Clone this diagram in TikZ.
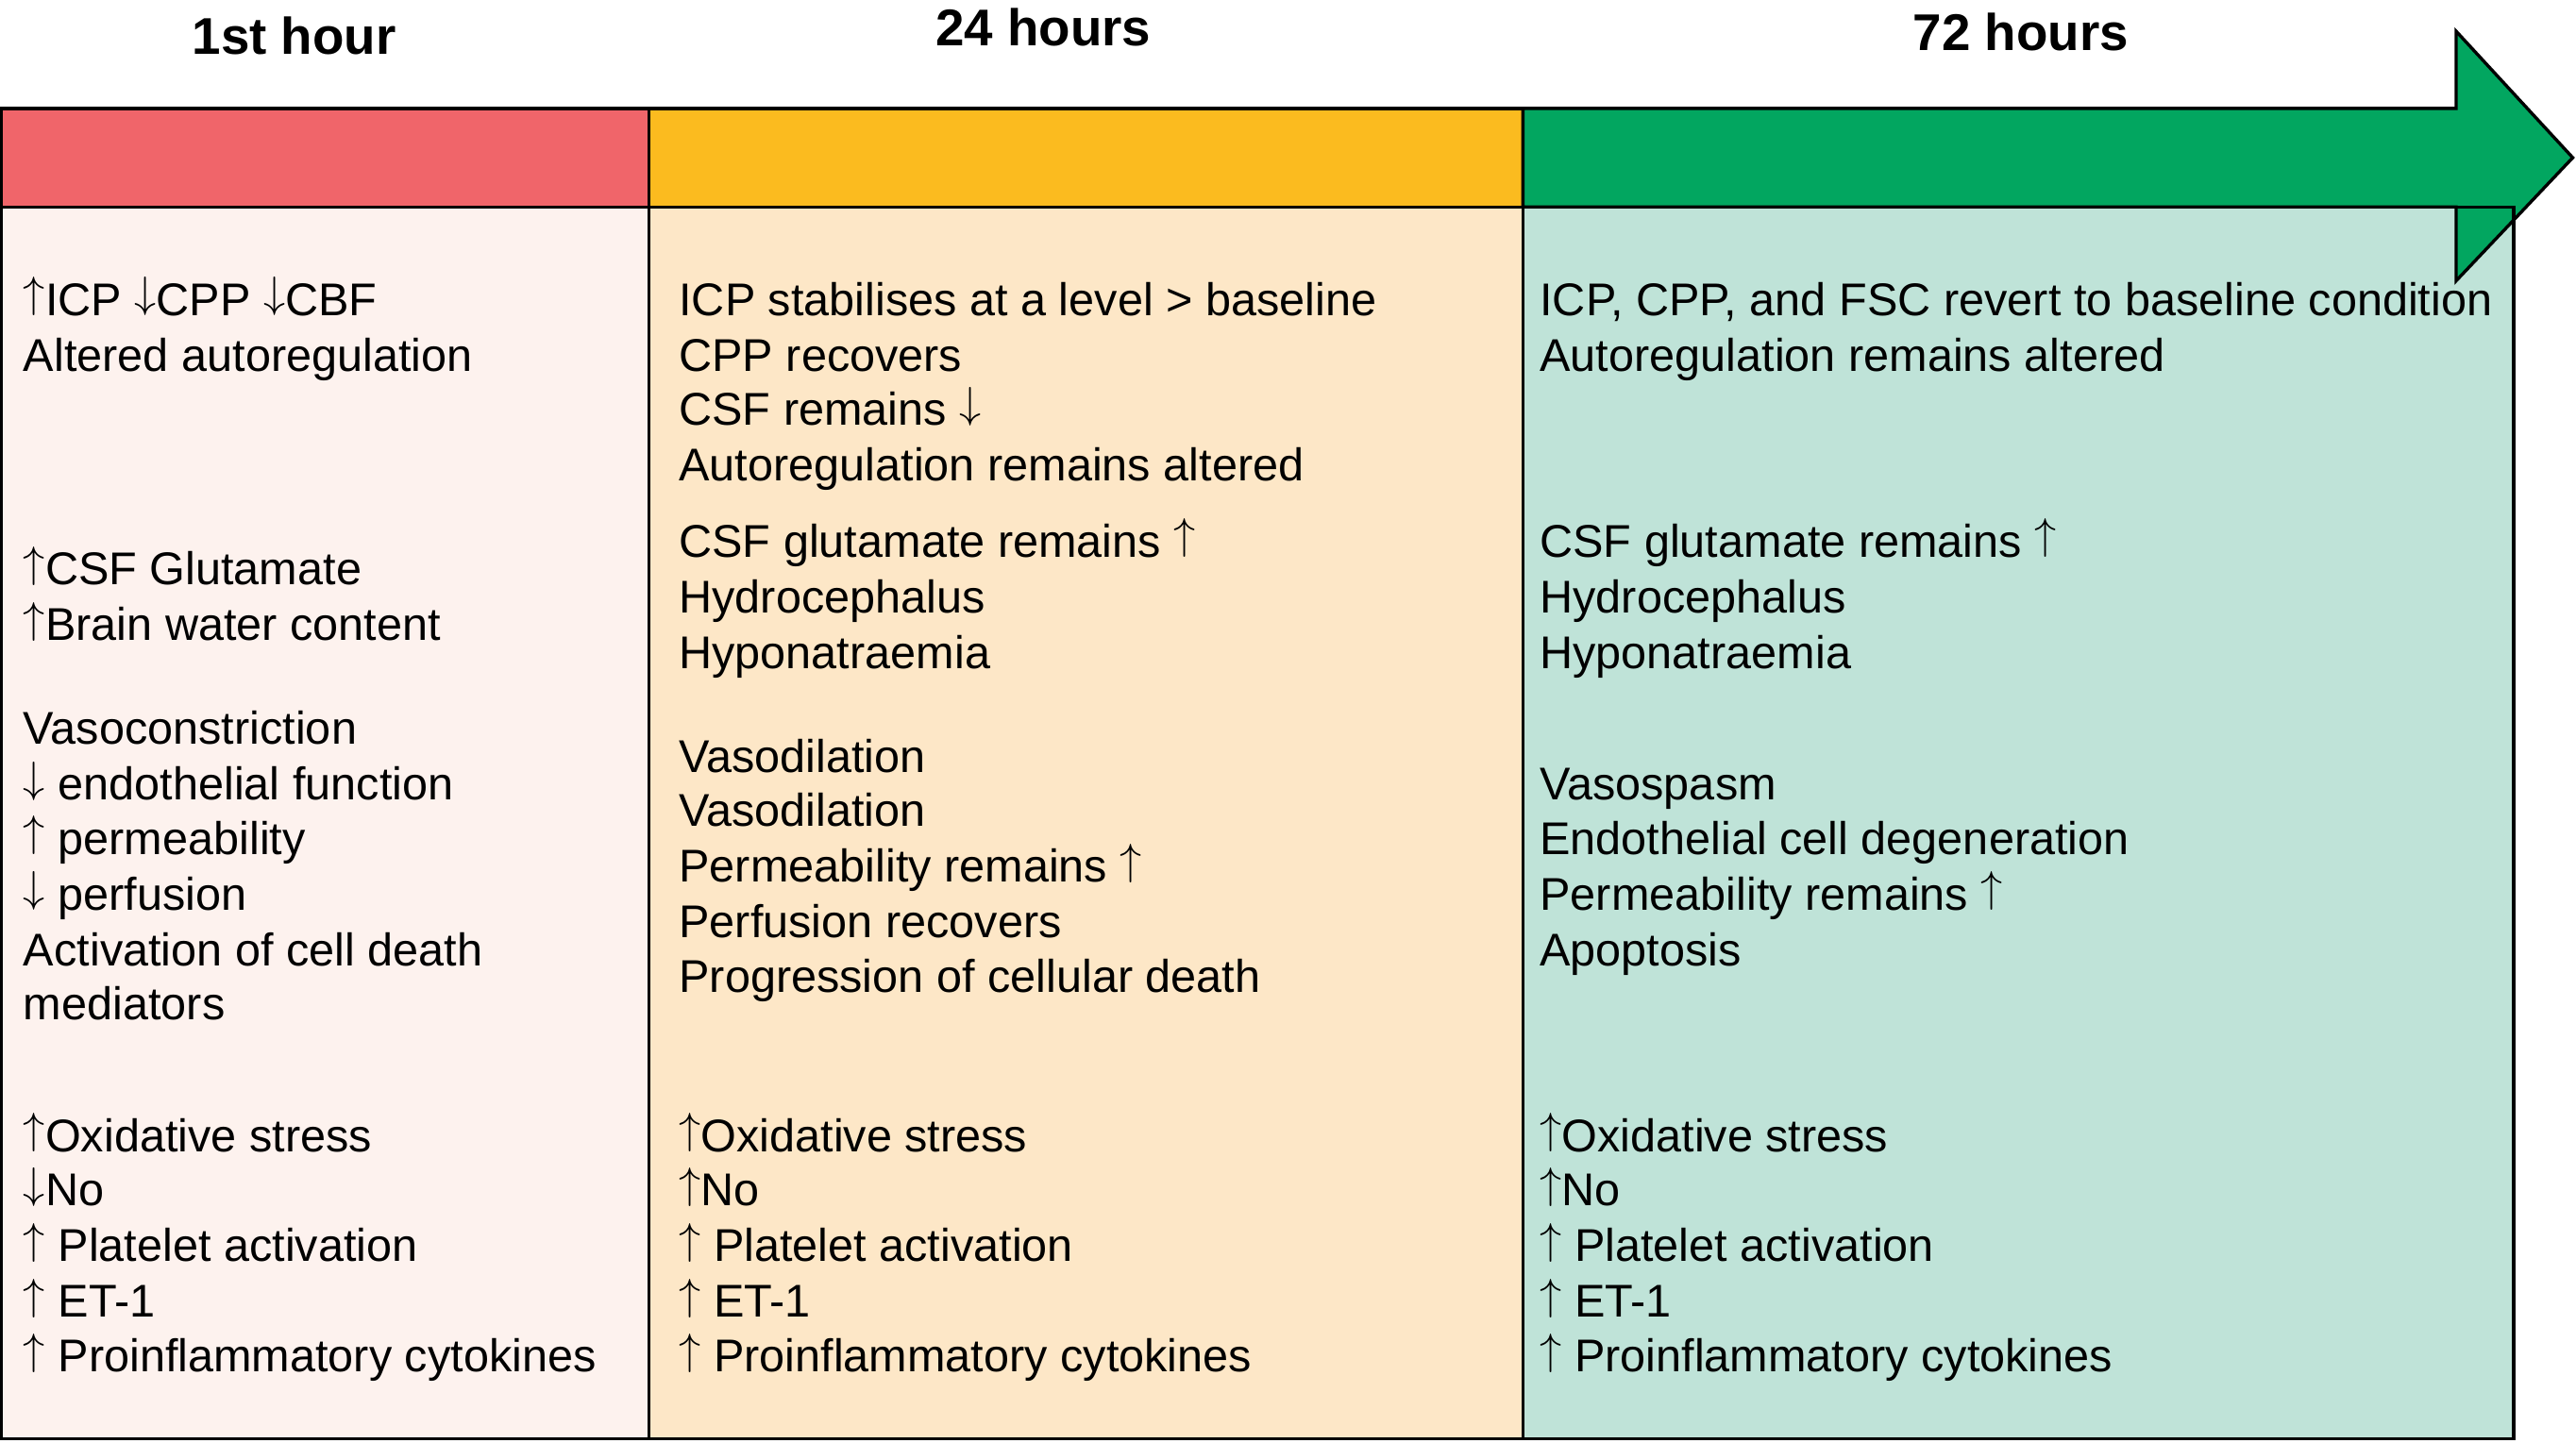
\RequirePackage{fix-cm}
\documentclass[tikz,border=0pt]{standalone}
\usepackage{fontspec}
\setmainfont{Liberation Sans}
\definecolor{hdrred}{HTML}{F0656A}
\definecolor{hdrorange}{HTML}{FBBB1F}
\definecolor{hdrgreen}{HTML}{02A660}
\definecolor{bodyone}{HTML}{FDF2EE}
\definecolor{bodytwo}{HTML}{FDE7C7}
\definecolor{bodythree}{HTML}{BFE3D8}
\newcommand\uarr{\raisebox{0.17em}{\scalebox{0.95}{$\uparrow$}}}
\newcommand\darr{\raisebox{0.17em}{\scalebox{0.95}{$\downarrow$}}}
\begin{document}
\begin{tikzpicture}[x=0.02cm,y=-0.02cm,
  frame/.style={draw=black,line width=1.1pt,line join=miter},
  txt/.style={anchor=base west,inner sep=0pt,font=\fontsize{15.9}{19}\selectfont},
  hdr/.style={anchor=base,inner sep=0pt,font=\fontsize{17.9}{21}\selectfont\bfseries}]
\useasboundingbox (0,0) rectangle (1568,878);
% body columns
\path[frame,fill=bodyone] (1,126) rectangle (395,876);
\path[frame,fill=bodytwo] (395,126) rectangle (927,876);
\path[frame,fill=bodythree] (927,126) rectangle (1530,876);
% header bar
\path[frame,fill=hdrred] (1,66) rectangle (395,126);
\path[frame,fill=hdrorange] (395,66) rectangle (927,126);
\path[frame,fill=hdrgreen] (927,66) -- (1495,66) -- (1495,19) -- (1566,96) -- (1495,171) -- (1495,126) -- (927,126) -- cycle;
\path[frame] (927,126) rectangle (1530,876);
% headers
\node[hdr] (h1) at (179,33) {1st hour};
\node[hdr] (h2) at (635,28) {24 hours};
\node[hdr] (h3) at (1230,31) {72 hours};
% column 1
\foreach \yy/\tt [count=\i] in {182/\uarr ICP \darr CPP \darr CBF, 216/Altered autoregulation,
  346/\uarr CSF Glutamate, 380/\uarr Brain water content,
  443/Vasoconstriction, 477/\darr\ endothelial function, 510/\uarr\ permeability, 544/\darr\ perfusion,
  578/Activation of cell death, 611/mediators,
  691/\uarr Oxidative stress, 724/\darr No, 758/\uarr\ Platelet activation, 792/\uarr\ ET-1, 825/\uarr\ Proinflammatory cytokines}
  {\node[txt] (a\i) at (14,\yy+10) {\tt};}
% column 2
\foreach \yy/\tt [count=\i] in {182/ICP stabilises at a level > baseline, 216/CPP recovers, 249/CSF remains \darr,
  283/Autoregulation remains altered,
  329/CSF glutamate remains \uarr, 363/Hydrocephalus, 397/Hyponatraemia,
  460/Vasodilation, 493/Vasodilation, 527/Permeability remains \uarr, 561/Perfusion recovers,
  594/Progression of cellular death,
  691/\uarr Oxidative stress, 724/\uarr No, 758/\uarr\ Platelet activation, 792/\uarr\ ET-1, 825/\uarr\ Proinflammatory cytokines}
  {\node[txt] (b\i) at (413,\yy+10) {\tt};}
% column 3
\foreach \yy/\tt [count=\i] in {182/{ICP, CPP, and FSC revert to baseline condition}, 216/Autoregulation remains altered,
  329/CSF glutamate remains \uarr, 363/Hydrocephalus, 397/Hyponatraemia,
  477/Vasospasm, 510/Endothelial cell degeneration, 544/Permeability remains \uarr, 578/Apoptosis,
  691/\uarr Oxidative stress, 724/\uarr No, 758/\uarr\ Platelet activation, 792/\uarr\ ET-1, 825/\uarr\ Proinflammatory cytokines}
  {\node[txt] (c\i) at (937,\yy+10) {\tt};}
\end{tikzpicture}
\end{document}
